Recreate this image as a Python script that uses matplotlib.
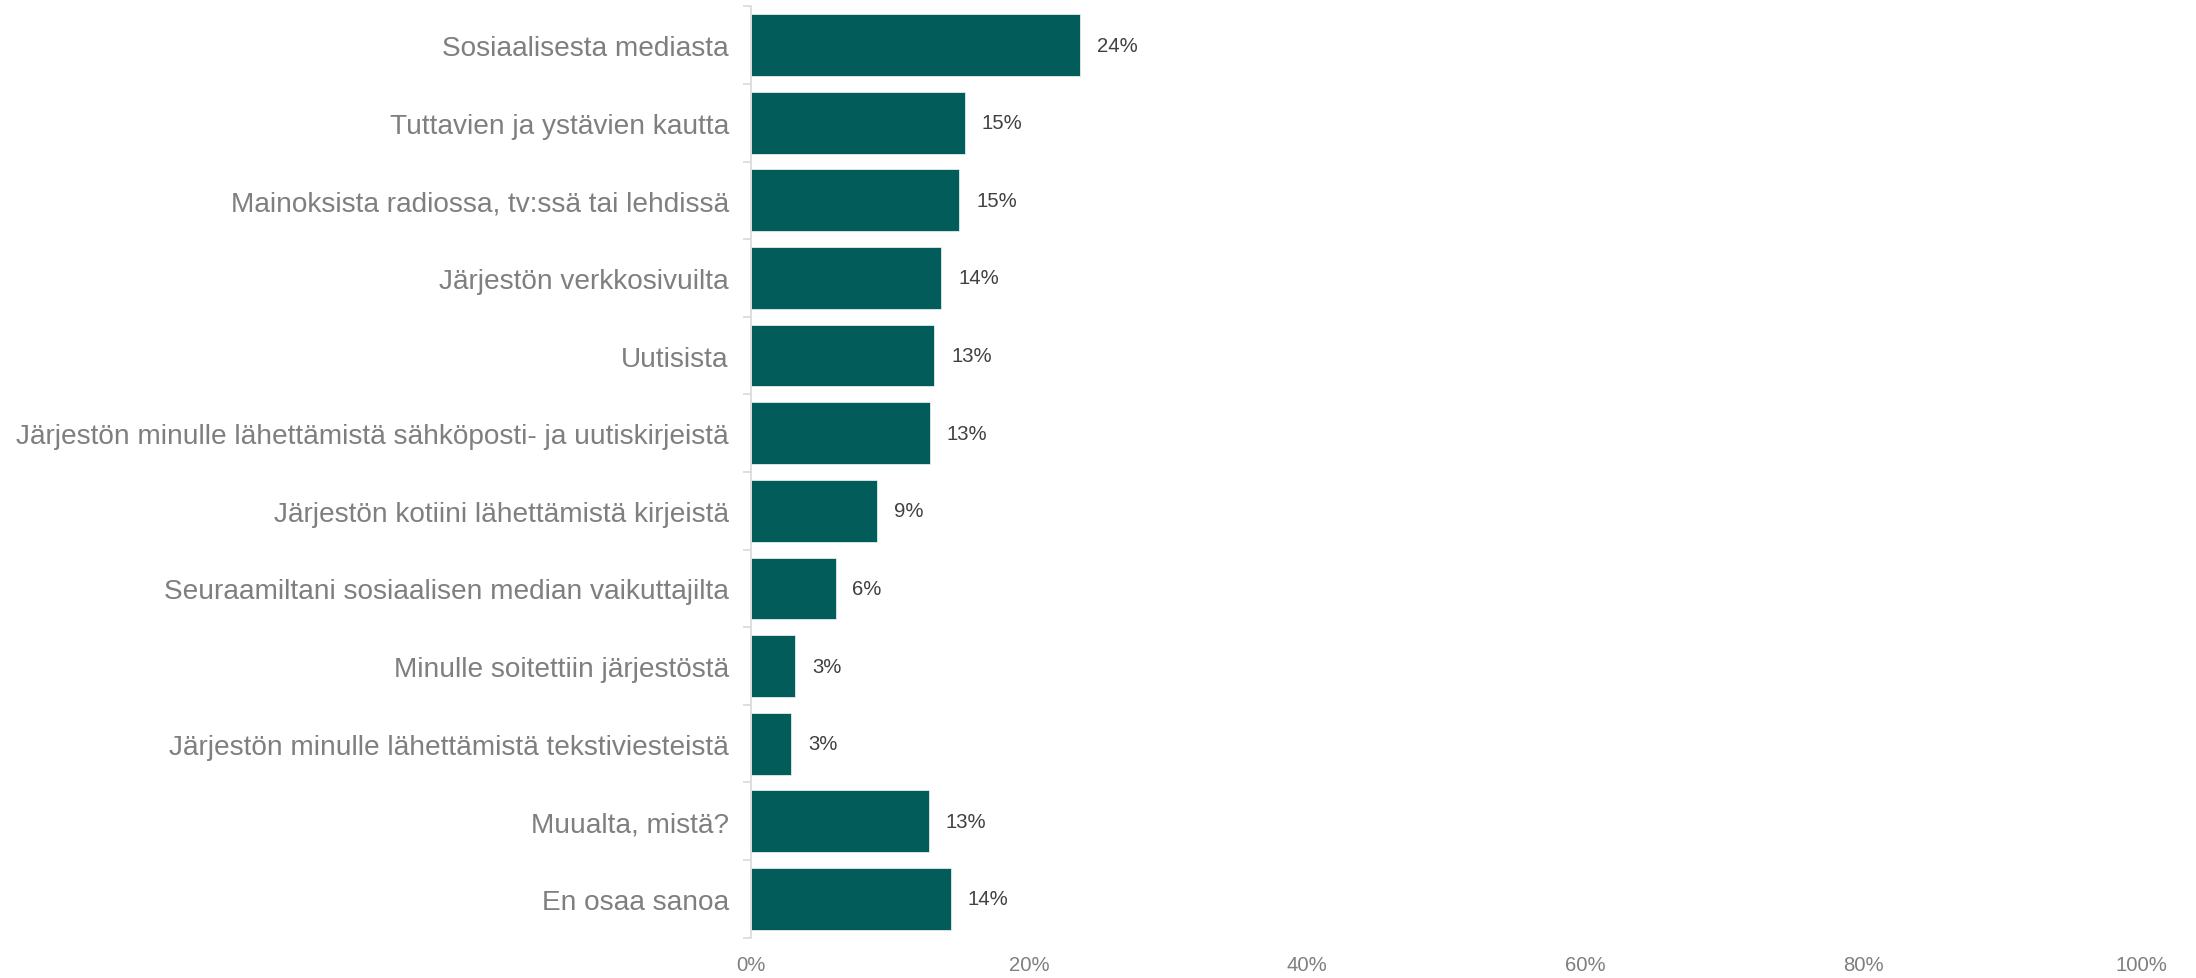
import matplotlib
matplotlib.use("Agg")
import matplotlib.pyplot as plt
import numpy as np
from matplotlib.ticker import FixedLocator, PercentFormatter

categories = [
    "Sosiaalisesta mediasta",
    "Tuttavien ja ystävien kautta",
    "Mainoksista radiossa, tv:ssä tai lehdissä",
    "Järjestön verkkosivuilta",
    "Uutisista",
    "Järjestön minulle lähettämistä sähköposti- ja uutiskirjeistä",
    "Järjestön kotiini lähettämistä kirjeistä",
    "Seuraamiltani sosiaalisen median vaikuttajilta",
    "Minulle soitettiin järjestöstä",
    "Järjestön minulle lähettämistä tekstiviesteistä",
    "Muualta, mistä?",
    "En osaa sanoa",
]
values = [23.7, 15.4, 15.0, 13.7, 13.2, 12.9, 9.1, 6.1, 3.2, 2.9, 12.8, 14.4]
labels = ["24%", "15%", "15%", "14%", "13%", "13%", "9%", "6%", "3%", "3%", "13%", "14%"]
xticks = [0, 20, 40, 60, 80, 100]

plt.rcParams['font.family'] = ['Liberation Sans', 'DejaVu Sans']

fig = plt.figure(figsize=(21.96, 9.79), dpi=100)
left, right = 751 / 2196, 2141 / 2196
top, bottom = 1 - 7.3 / 979, 1 - 938.7 / 979
ax = fig.add_axes([left, bottom, right - left, top - bottom])

n = len(categories)
y = np.arange(n)
ax.barh(y, values, height=0.795, color='#025d5a', edgecolor='#e3eced', linewidth=0.6)

for yi, v, lab in zip(y, values, labels):
    ax.annotate(lab, (v, yi), xytext=(12, 0), textcoords='offset points',
                va='center', ha='left', fontsize=14.6, color='#404040')

ax.set_xlim(0, 100)
ax.set_ylim(n - 0.5, -0.5)
ax.set_yticks(y)
ax.set_yticklabels(categories, fontsize=20.2, color='#7f7f7f')
ax.yaxis.set_minor_locator(FixedLocator(np.arange(-0.5, n, 1.0)))
ax.tick_params(axis='y', which='major', length=0, pad=16)
ax.tick_params(axis='y', which='minor', length=6, color='#d9d9d9', width=1.2, direction='out')

ax.set_xticks(xticks)
ax.xaxis.set_major_formatter(PercentFormatter(decimals=0))
ax.tick_params(axis='x', length=0, pad=12.5, labelsize=14.6, labelcolor='#7f7f7f')

for s in ['top', 'right', 'bottom']:
    ax.spines[s].set_visible(False)
ax.spines['left'].set_color('#d9d9d9')
ax.spines['left'].set_linewidth(1.2)

fig.savefig('out.png', dpi=100, facecolor='white')
